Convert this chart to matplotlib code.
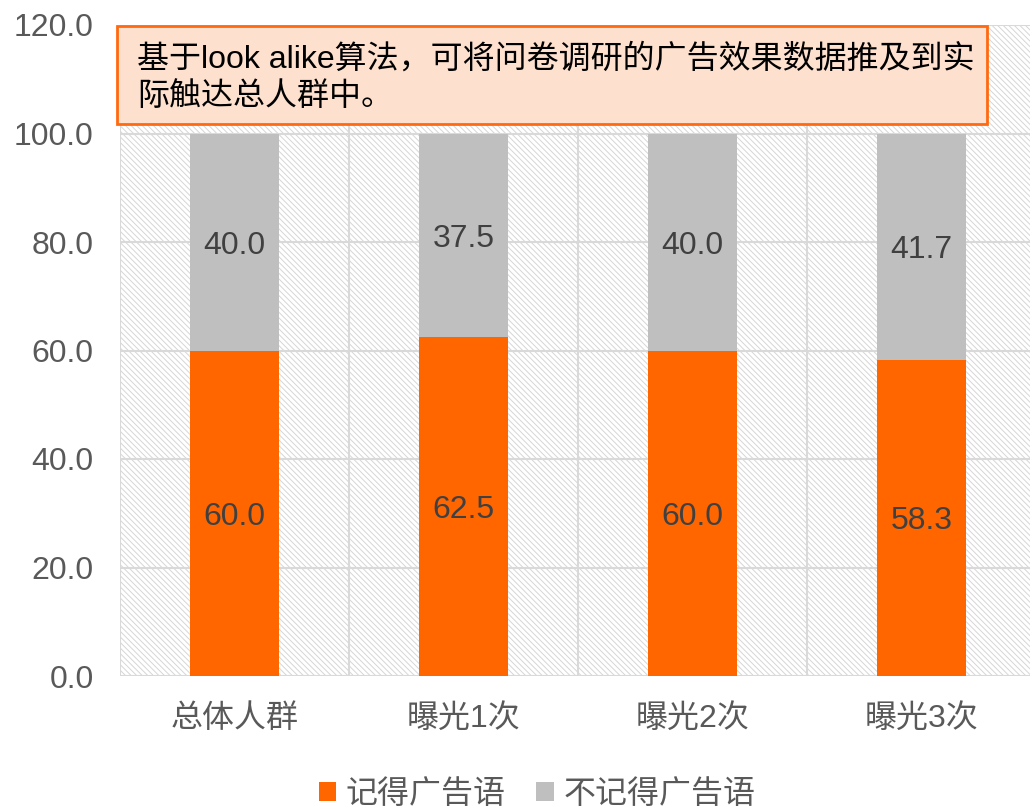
import matplotlib
matplotlib.use("Agg")
import matplotlib.pyplot as plt
from matplotlib.patches import Rectangle

plt.rcParams['font.family'] = ['Liberation Sans', 'Noto Sans CJK SC', 'DejaVu Sans']
plt.rcParams['hatch.linewidth'] = 0.7
plt.rcParams['hatch.color'] = '#d6d6d6'

categories = ['总体人群', '曝光1次', '曝光2次', '曝光3次']
remember = [60.0, 62.5, 60.0, 58.3]
not_remember = [40.0, 37.5, 40.0, 41.7]
series_names = ['记得广告语', '不记得广告语']
yticks = [0, 20, 40, 60, 80, 100, 120]
note = '基于look alike算法，可将问卷调研的广告效果数据推及到实\n际触达总人群中。'

W, H = 1030, 810
fig = plt.figure(figsize=(W / 100, H / 100), dpi=100)
ax = fig.add_axes([120 / W, 134 / H, 916 / W, 651 / H])

x = list(range(len(categories)))
ax.set_xlim(-0.5, len(categories) - 0.5)
ax.set_ylim(0, 120)

# hatched background
bg = Rectangle((0, 0), 1, 1, transform=ax.transAxes, facecolor='white',
               edgecolor='#d6d6d6', hatch='\\\\\\\\\\\\', linewidth=0, zorder=0)
ax.add_patch(bg)

for s in ax.spines.values():
    s.set_visible(False)

for yv in yticks:
    ax.axhline(yv, color='#d9d9d9', lw=1.5, zorder=1)
for xv in [i - 0.5 for i in range(len(categories) + 1)]:
    ax.axvline(xv, color='#d9d9d9', lw=1.5, zorder=1)

bw = 0.39
ax.bar(x, remember, width=bw, color='#FF6600', zorder=2, label=series_names[0])
ax.bar(x, not_remember, width=bw, bottom=remember, color='#BFBFBF', zorder=2,
       label=series_names[1])

for i in x:
    ax.text(i, remember[i] / 2, f'{remember[i]:.1f}', ha='center', va='center_baseline',
            fontsize=23, color='#404040', zorder=3)
    ax.text(i, remember[i] + not_remember[i] / 2, f'{not_remember[i]:.1f}',
            ha='center', va='center_baseline', fontsize=23, color='#404040', zorder=3)

ax.set_yticks(yticks)
ax.set_yticklabels([f'{v:.1f}' for v in yticks], fontsize=23, color='#595959')
ax.set_xticks(x)
ax.set_xticklabels(categories, fontsize=23, color='#595959')
ax.tick_params(axis='both', length=0)
ax.tick_params(axis='y', pad=19)
ax.tick_params(axis='x', pad=20)

# annotation box
box = Rectangle((117 / W, 1 - 124 / H), (987 - 117) / W, (124 - 26) / H,
                transform=fig.transFigure, facecolor='#FDE0CE', edgecolor='#FF6A10',
                linewidth=2, zorder=5)
fig.add_artist(box)
fig.text(137 / W, 1 - 78 / H, note, fontsize=23, color='black',
         ha='left', va='center', linespacing=1.3, zorder=6)

handles, labels = ax.get_legend_handles_labels()
fig.legend(handles, labels, loc='center', bbox_to_anchor=(537 / W, 1 - 795 / H),
           ncol=2, frameon=False, fontsize=23, handlelength=0.55, handleheight=0.55,
           handletextpad=0.3, columnspacing=0.95, labelcolor='#595959')

fig.savefig('out.png', dpi=100)
